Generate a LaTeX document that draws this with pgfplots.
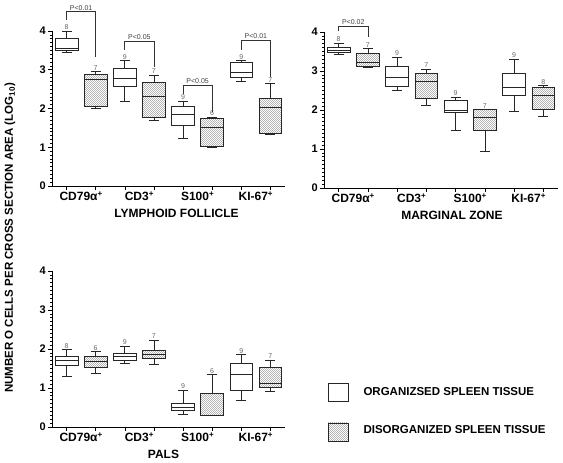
\documentclass[border=0pt]{standalone}
\usepackage{pgfplots}
\pgfplotsset{compat=1.18}
\usepgfplotslibrary{statistics}
\usetikzlibrary{patterns}
\usepackage{fontspec}
\setmainfont{Liberation Sans}

\pgfdeclarepatternformonly{finedots}{\pgfqpoint{-0.5pt}{-0.5pt}}{\pgfqpoint{2.5pt}{2.5pt}}{\pgfqpoint{2pt}{2pt}}{%
  \pgfpathcircle{\pgfqpoint{0.5pt}{0.5pt}}{0.4pt}%
  \pgfpathcircle{\pgfqpoint{1.5pt}{1.5pt}}{0.4pt}%
  \pgfusepath{fill}}

\pgfplotsset{
  panel/.style={
    scale only axis, width=233pt, height=155pt,
    xmin=0.5, xmax=8.5, ymin=0, ymax=4,
    axis x line*=bottom, axis y line*=left,
    xtick={1,...,8}, xticklabels={},
    extra x ticks={1.5,3.5,5.5,7.5},
    extra x tick labels={CD79α\textsuperscript{+},CD3\textsuperscript{+},S100\textsuperscript{+},KI-67\textsuperscript{+}},
    extra x tick style={tick style={draw=none}},
    ytick={0,1,2,3,4}, minor y tick num=9,
    tick align=outside, major tick length=4pt, minor tick length=2pt,
    tick style={black, line width=0.6pt},
    axis line style={line width=0.8pt, black},
    clip=false,
    boxplot/draw direction=y,
    /pgf/number format/assume math mode=true,
    xticklabel style={font=\fontsize{12}{13}\selectfont\bfseries, inner sep=1.5pt},
    yticklabel style={font=\fontsize{11}{12}\selectfont\bfseries, inner sep=2pt},
    xlabel style={font=\fontsize{12}{13}\selectfont\bfseries, yshift=1pt},
  },
  brk/.style={black!80, line width=0.7pt, mark=none, forget plot},
}
\tikzset{
  nlab/.style={font=\fontsize{7}{8}\selectfont, text=black!60, anchor=south, inner sep=1pt},
  plab/.style={font=\fontsize{7}{8}\selectfont, text=black!75, anchor=south, inner sep=1.2pt},
}

% pos, lower whisker, lower quartile, median, upper quartile, upper whisker, n
\newcommand\org[7]{%
  \addplot[boxplot prepared={draw position=#1, lower whisker=#2, lower quartile=#3,
     median=#4, upper quartile=#5, upper whisker=#6, box extend=0.78, whisker extend=0.34},
     draw=black!85, line width=0.7pt, fill=white, solid] coordinates {};
  \node[nlab] at (axis cs:#1,#6) {#7};
}
\newcommand\dis[7]{%
  \addplot[boxplot prepared={draw position=#1, lower whisker=#2, lower quartile=#3,
     median=#4, upper quartile=#5, upper whisker=#6, box extend=0.78, whisker extend=0.34},
     draw=black!85, line width=0.7pt, pattern=finedots, pattern color=black!45, solid] coordinates {};
  \node[nlab] at (axis cs:#1,#6) {#7};
}

\begin{document}
\begin{tikzpicture}[x=1pt,y=1pt]
\path[use as bounding box] (0,0) rectangle (563,463);

% ---------- Lymphoid follicle ----------
\begin{axis}[panel, at={(52pt,277pt)}, anchor=south west, xlabel={LYMPHOID FOLLICLE},
  xlabel style={xshift=8pt}]
\org{1}{3.46}{3.50}{3.54}{3.82}{4.00}{8}
\dis{2}{2.00}{2.06}{2.74}{2.88}{2.96}{7}
\org{3}{2.19}{2.58}{2.77}{3.03}{3.24}{9}
\dis{4}{1.69}{1.76}{2.32}{2.68}{2.86}{7}
\org{5}{1.22}{1.56}{1.86}{2.06}{2.19}{9}
\dis{6}{0.99}{1.03}{1.52}{1.74}{1.78}{6}
\org{7}{2.69}{2.80}{2.92}{3.18}{3.24}{9}
\dis{8}{1.32}{1.35}{2.04}{2.27}{2.64}{7}
\addplot[brk] coordinates {(1,4.28) (1,4.50) (2,4.50) (2,3.33)};
\addplot[brk] coordinates {(3,3.51) (3,3.74) (4,3.74) (4,3.07)};
\addplot[brk] coordinates {(5,2.37) (5,2.60) (6,2.60) (6,1.92)};
\addplot[brk] coordinates {(7,3.51) (7,3.76) (8,3.76) (8,2.82)};
\node[plab] at (axis cs:1.5,4.50) {P<0.01};
\node[plab] at (axis cs:3.5,3.74) {P<0.05};
\node[plab] at (axis cs:5.5,2.60) {P<0.05};
\node[plab] at (axis cs:7.5,3.76) {P<0.01};
\end{axis}

% ---------- Marginal zone ----------
\begin{axis}[panel, at={(324pt,275pt)}, anchor=south west, width=234pt, height=156pt, xlabel={MARGINAL ZONE},
  xlabel style={xshift=11pt}]
\org{1}{3.42}{3.48}{3.53}{3.61}{3.72}{8}
\dis{2}{3.09}{3.12}{3.23}{3.46}{3.57}{7}
\org{3}{2.50}{2.61}{2.83}{3.12}{3.36}{9}
\dis{4}{2.13}{2.30}{2.73}{2.93}{3.05}{7}
\org{5}{1.47}{1.93}{2.00}{2.24}{2.33}{9}
\dis{6}{0.93}{1.47}{1.81}{2.02}{2.02}{7}
\org{7}{1.97}{2.37}{2.58}{2.94}{3.31}{9}
\dis{8}{1.83}{2.02}{2.37}{2.58}{2.63}{8}
\addplot[brk] coordinates {(1,4.02) (1,4.15) (2,4.15) (2,3.87)};
\node[plab] at (axis cs:1.5,4.15) {P<0.02};
\end{axis}

% ---------- PALS ----------
\begin{axis}[panel, at={(52pt,36pt)}, anchor=south west, height=156pt, xlabel={PALS},
  xlabel style={xshift=-5pt}]
\org{1}{1.30}{1.57}{1.71}{1.82}{1.99}{8}
\dis{2}{1.37}{1.54}{1.69}{1.82}{1.93}{6}
\org{3}{1.63}{1.71}{1.80}{1.90}{2.08}{9}
\dis{4}{1.60}{1.76}{1.86}{1.97}{2.23}{7}
\org{5}{0.33}{0.42}{0.51}{0.61}{0.95}{9}
\dis{6}{0.31}{0.31}{0.31}{0.87}{1.34}{6}
\org{7}{0.69}{0.93}{1.35}{1.62}{1.85}{9}
\dis{8}{0.91}{1.01}{1.13}{1.53}{1.72}{7}
\end{axis}

% y label
\node[rotate=90, font=\fontsize{11.5}{13}\selectfont\bfseries] at (10,225)
  {NUMBER O CELLS PER CROSS SECTION AREA (LOG\textsubscript{10})};

% legend
\draw[black!85, line width=0.7pt, fill=white] (328,62) rectangle (348,80);
\node[anchor=west, font=\fontsize{11.5}{13}\selectfont\bfseries] at (360,71) {ORGANIZSED SPLEEN TISSUE};
\draw[black!85, line width=0.7pt, pattern=finedots, pattern color=black!45] (328,22) rectangle (348,40);
\node[anchor=west, font=\fontsize{11.5}{13}\selectfont\bfseries] at (360,33) {DISORGANIZED SPLEEN TISSUE};
\end{tikzpicture}
\end{document}
